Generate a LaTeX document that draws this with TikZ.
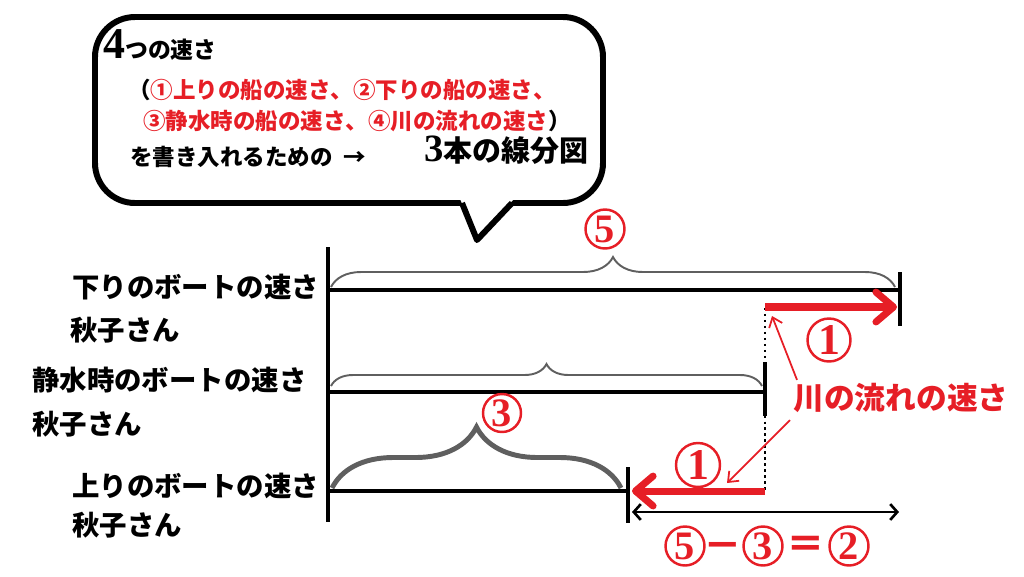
\documentclass[tikz,border=0pt]{standalone}
\usepackage{fontspec}
\setmainfont{Noto Sans CJK JP}
\newfontfamily\digitfont{Liberation Serif}
\usetikzlibrary{arrows.meta,decorations.pathreplacing}
\definecolor{markred}{RGB}{230,30,38}
\definecolor{bracegray}{RGB}{95,95,95}
\newcommand{\fs}[1]{\fontsize{#1}{#1}\selectfont}

\begin{document}
\begin{tikzpicture}[x=0.02cm,y=-0.02cm,
	bubble/.style={line width=3.4pt},
	segline/.style={line width=2.4pt},
	lbl/.style={inner sep=0pt,font=\bfseries\fs{15.6pt}},
	redtxt/.style={inner sep=0pt,text=markred,font=\bfseries#1},
	circnum/.style={circle,draw=markred,line width=1.4pt,minimum size=#1,inner sep=0pt,text=markred,font=\digitfont\bfseries\fs{23pt}},
	thinbrace/.style={decorate,decoration={brace,amplitude=#1},draw=bracegray,line width=1.1pt},
	redarrow/.style={draw=markred,line width=4pt,-{Straight Barb[length=10pt,width=17pt,round]}},
	pointer/.style={draw=markred,line width=1pt,-{Straight Barb[length=5pt,width=8pt]}},
	span/.style={line width=1.5pt,{Straight Barb[length=4pt,width=9pt]}-{Straight Barb[length=4pt,width=9pt]}}]
	\useasboundingbox (0,0) rectangle (1024,576);

	\begin{scope}
		\draw[bubble,rounded corners=0.8cm] (95,17) rectangle (603,203);
		\fill[white] (460,199) -- (514,199) -- (477,236) -- cycle;
		\draw[bubble,line join=round] (462,203) -- (477,240) -- (512,203);
	\end{scope}

	\node[anchor=base west,inner sep=0pt,font=\bfseries\fs{13pt}] (title) at (103,58) {{\digitfont\fs{25pt}4}つの速さ};
	\node[anchor=west,inner sep=0pt,font=\bfseries\fs{12.8pt}] (kinds1) at (128,90) {（\textcolor{markred}{①上りの船の速さ、②下りの船の速さ、}};
	\node[anchor=west,inner sep=0pt,font=\bfseries\fs{12.8pt}] (kinds2) at (143,121) {\textcolor{markred}{③静水時の船の速さ、④川の流れの速さ}）};
	\node[anchor=west,inner sep=0pt,font=\bfseries\fs{12.8pt}] (lead) at (130,157) {を書き入れるための\ \ →};
	\node[anchor=base west,inner sep=0pt,font=\bfseries\fs{16.5pt}] (goal) at (424,161) {{\digitfont\fs{22pt}3}本の線分図};

	\node[lbl,anchor=west] (downlabel) at (72,287) {下りのボートの速さ};
	\node[lbl,anchor=west] (downname) at (70,330) {秋子さん};
	\node[lbl,anchor=west] (stilllabel) at (32,380) {静水時のボートの速さ};
	\node[lbl,anchor=west] (stillname) at (32,424) {秋子さん};
	\node[lbl,anchor=west] (uplabel) at (72,486) {上りのボートの速さ};
	\node[lbl,anchor=west] (upname) at (72,525) {秋子さん};

	\coordinate (top) at (328,247);
	\coordinate (bottom) at (328,522);
	\coordinate (d0) at (328,290);
	\coordinate (d1) at (900,290);
	\coordinate (s0) at (328,392);
	\coordinate (s1) at (765,392);
	\coordinate (u0) at (328,491);
	\coordinate (u1) at (628,491);

	\draw[segline] (top) -- (bottom);
	\draw[segline] (d0) -- (d1) (900,272) -- (900,326);
	\draw[segline] (s0) -- (s1) (765,362) -- (765,416);
	\draw[segline] (u0) -- (u1) (628,467) -- (628,523);
	\draw[dotted,line width=1.4pt] (765,308) -- (765,490);

	\draw[thinbrace=0.6cm] (331,287) -- (895,287);
	\draw[thinbrace=0.44cm] (331,386) -- (762,386);
	\draw[thinbrace=1.22cm,line width=2.8pt] (332,488) -- (621,488);

	\coordinate (cur1) at (765,307);
	\coordinate (cur1e) at (897,307);
	\coordinate (cur2) at (765,491);
	\coordinate (cur2e) at (632,491);
	\draw[redarrow] (cur1) -- (cur1e);
	\draw[redarrow] (cur2) -- (cur2e);
	\draw[span] (632,512) -- (899,512);

	\node[circnum=0.78cm] (five) at (605,229) {5};
	\node[circnum=0.76cm] (three) at (502,413) {3};
	\node[circnum=0.86cm,font=\digitfont\bfseries\fs{25pt}] (oneup) at (829,340) {1};
	\node[circnum=0.88cm,font=\digitfont\bfseries\fs{25pt}] (onedown) at (698,465) {1};
	\node[redtxt=\fs{17.5pt},anchor=west] (river) at (793,398) {川の流れの速さ};

	\node[circnum=0.78cm] (diff5) at (685,546) {5};
	\node[redtxt=\fs{22pt}] (minus) at (723,551) {－};
	\node[circnum=0.78cm] (diff3) at (763,546) {3};
	\node[redtxt=\fs{22pt}] (equals) at (806,547) {＝};
	\node[circnum=0.78cm] (diff2) at (849,546) {2};

	\draw[pointer] ([shift={(4,-3)}]river.north west) -- (772,316);
	\draw[pointer] ([shift={(-3,7)}]river.south west) -- (727,483);
\end{tikzpicture}
\end{document}
